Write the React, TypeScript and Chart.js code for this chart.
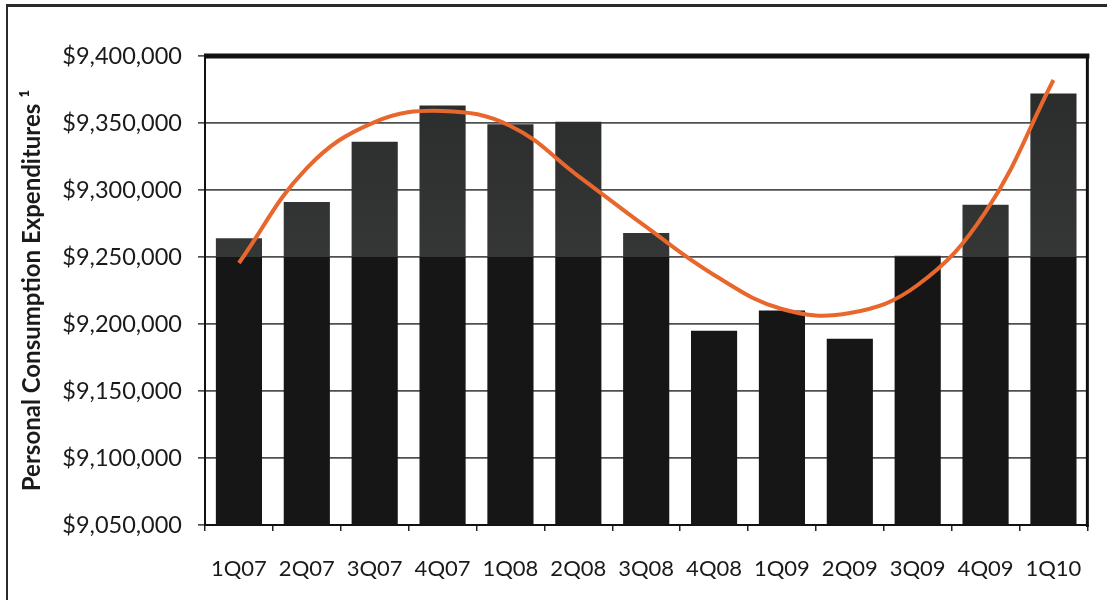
import React, { useEffect, useRef } from "react";
import { Chart, registerables } from "chart.js";

Chart.register(...registerables);

// Quarterly categories
const quarters = [
  "1Q07", "2Q07", "3Q07", "4Q07", "1Q08", "2Q08", "3Q08",
  "4Q08", "1Q09", "2Q09", "3Q09", "4Q09", "1Q10",
];

// Personal consumption expenditures per quarter
const pceValues = [
  9264000, 9291000, 9336000, 9363000, 9349000, 9351000, 9268000,
  9195000, 9210000, 9189000, 9251000, 9289000, 9372000,
];

// Smoothed trend line values at each quarter
const trendValues = [
  9245500, 9316400, 9350700, 9359000, 9347800, 9310400, 9272400,
  9236600, 9211200, 9208200, 9229100, 9283600, 9382100,
];

// Y axis range and tick spacing
const yMin = 9050000;
const yMax = 9400000;
const yStep = 50000;
// Level where the bar shading changes
const shadeBreak = 9250000;

const yTitle = "Personal Consumption Expenditures \u00B9";

const fontFamily = "Lato, 'Open Sans', sans-serif";

// Draws the heavy top and right edges of the plot area
const plotFrame = {
  id: "plotFrame",
  afterDatasetsDraw(chart: any) {
    const { ctx, chartArea } = chart;
    const { left, right, top, bottom } = chartArea;
    ctx.save();
    ctx.strokeStyle = "#111";
    ctx.lineWidth = 5;
    ctx.beginPath();
    ctx.moveTo(left - 1, top);
    ctx.lineTo(right + 2, top);
    ctx.stroke();
    ctx.lineWidth = 3;
    ctx.beginPath();
    ctx.moveTo(right, top);
    ctx.lineTo(right, bottom + 2);
    ctx.stroke();
    ctx.restore();
  },
};

export default function App() {
  const canvasRef = useRef<HTMLCanvasElement | null>(null);

  useEffect(() => {
    const canvas = canvasRef.current;
    if (!canvas) return;

    const barFill = (context: any) => {
      const chart = context.chart;
      const area = chart.chartArea;
      if (!area) return "#1a1a1a";
      const yScale = chart.scales.y;
      const breakY = yScale.getPixelForValue(shadeBreak);
      const frac = Math.min(1, Math.max(0, (breakY - area.top) / (area.bottom - area.top)));
      const g = chart.ctx.createLinearGradient(0, area.top, 0, area.bottom);
      g.addColorStop(0, "#292b2a");
      g.addColorStop(Math.max(0, frac - 0.001), "#353736");
      g.addColorStop(frac, "#161616");
      g.addColorStop(1, "#161616");
      return g;
    };

    const chart = new Chart(canvas, {
      data: {
        labels: quarters,
        datasets: [
          {
            type: "line",
            label: "Trend",
            data: trendValues,
            borderColor: "#E8672C",
            borderWidth: 4,
            pointRadius: 0,
            tension: 0.4,
            fill: false,
            order: 1,
          } as any,
          {
            type: "bar",
            label: "PCE",
            data: pceValues,
            backgroundColor: barFill,
            borderWidth: 0,
            categoryPercentage: 1,
            barPercentage: 0.68,
            order: 2,
          } as any,
        ],
      },
      options: {
        animation: false,
        responsive: false,
        maintainAspectRatio: false,
        layout: { padding: { left: 14, right: 16, top: 56, bottom: 0 } },
        plugins: {
          legend: { display: false },
          tooltip: { enabled: false },
        },
        scales: {
          x: {
            offset: true,
            grid: {
              display: true,
              drawOnChartArea: false,
              drawTicks: true,
              tickLength: 6,
              color: "#222",
              lineWidth: 1.5,
              offset: true,
            },
            border: { display: true, color: "#111", width: 2 },
            ticks: {
              color: "#1a1a1a",
              padding: 25,
              font: { family: fontFamily, size: 22 },
              maxRotation: 0,
              autoSkip: false,
            },
            afterFit(scale: any) {
              scale.height = 75;
            },
          },
          y: {
            min: yMin,
            max: yMax,
            grid: {
              color: "#4f4f4f",
              lineWidth: 1.7,
              drawTicks: true,
              tickLength: 7,
            },
            border: { display: true, color: "#111", width: 2 },
            ticks: {
              stepSize: yStep,
              color: "#1a1a1a",
              padding: 16,
              font: { family: fontFamily, size: 23.5 },
              callback: (v: any) => "$" + Number(v).toLocaleString("en-US"),
            },
            title: {
              display: true,
              text: yTitle,
              color: "#1a1a1a",
              font: { family: fontFamily, size: 24, weight: "bold" },
              padding: { top: 4, bottom: 4 },
            },
            afterFit(scale: any) {
              scale.width = 205 - 14;
            },
          },
        },
      },
      plugins: [plotFrame],
    });

    return () => chart.destroy();
  }, []);

  return (
    <div style={{ position: "fixed", left: 0, top: 0, width: 1107, height: 600, background: "#fff" }}>
      <div
        style={{
          position: "absolute",
          left: 6,
          top: 4,
          right: 0,
          bottom: 0,
          borderTop: "3px solid #2a2a2a",
          borderLeft: "2px solid #2a2a2a",
        }}
      />
      <canvas
        ref={canvasRef}
        width={1107}
        height={600}
        style={{ position: "absolute", left: 0, top: 0, width: 1107, height: 600 }}
      />
    </div>
  );
}
